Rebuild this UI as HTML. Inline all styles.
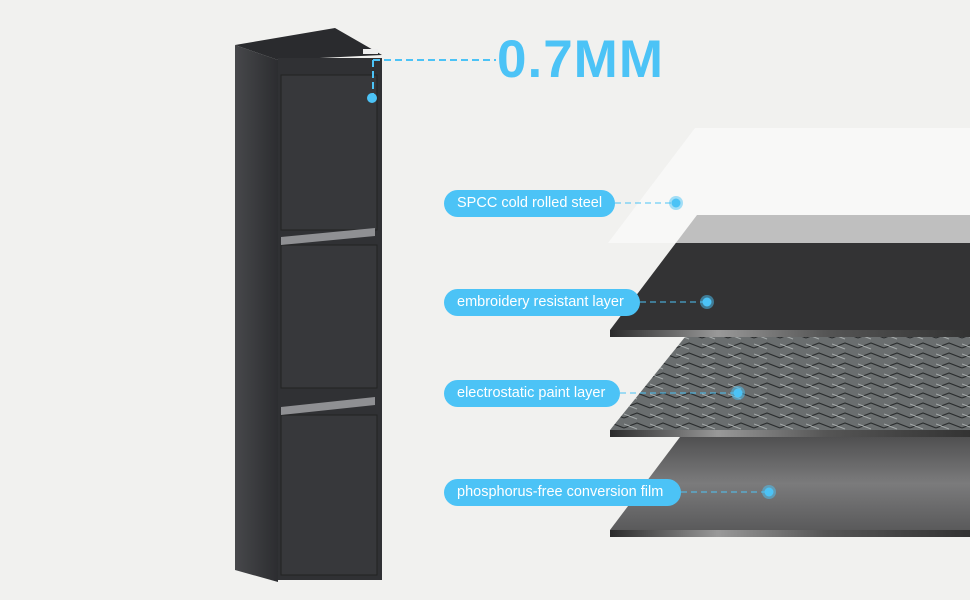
<!DOCTYPE html>
<html><head><meta charset="utf-8"><style>
body{margin:0;width:970px;height:600px;overflow:hidden;background:#f1f1ef;font-family:"Liberation Sans",sans-serif;position:relative}
.pill{position:absolute;left:444px;height:27px;line-height:27px;border-radius:14px;background:#4cc3f6;color:#fff;font-size:14.5px;padding:0 13px;box-sizing:border-box;white-space:nowrap}
</style></head><body>
<svg width="970" height="600" style="position:absolute;left:0;top:0">
<defs>
<linearGradient id="side" x1="0" x2="1"><stop offset="0" stop-color="#47484b"/><stop offset="1" stop-color="#2c2d30"/></linearGradient>
<linearGradient id="edge" x1="0" x2="1"><stop offset="0" stop-color="#2a2a2a"/><stop offset=".3" stop-color="#999"/><stop offset=".6" stop-color="#555"/><stop offset="1" stop-color="#333"/></linearGradient>
<linearGradient id="l4" x1="0" y1="0" x2="0" y2="1"><stop offset="0" stop-color="#505051"/><stop offset=".5" stop-color="#7b7b7c"/><stop offset="1" stop-color="#5a5a5b"/></linearGradient>
<pattern id="weave" width="26" height="10" patternUnits="userSpaceOnUse"><rect width="26" height="10" fill="#6a6e6f"/><path d="M0 8 L13 3 L26 8" stroke="#2a2d2e" stroke-width="1.2" fill="none"/><path d="M0 4 L13 9" stroke="#a5aaaa" stroke-width="1" fill="none"/></pattern>
</defs>
<!-- layers -->
<polygon points="697,215 970,215 970,330 610,330" fill="#333334"/>
<rect x="610" y="330" width="360" height="7" fill="url(#edge)"/>
<polygon points="695,128 970,128 970,243 608,243" fill="#fbfbfb" opacity=".7"/>
<polygon points="685,337 970,337 970,430 610,430" fill="url(#weave)"/>
<rect x="610" y="430" width="360" height="7" fill="url(#edge)"/>
<polygon points="680,437 970,437 970,530 610,530" fill="url(#l4)"/>
<rect x="610" y="530" width="360" height="7" fill="url(#edge)"/>
<!-- cabinet -->
<polygon points="235,45 335,28 382,55 278,60" fill="#2a2b2e"/>
<polygon points="235,45 278,60 278,582 235,570" fill="url(#side)"/>
<rect x="278" y="58" width="104" height="522" fill="#303134"/>
<rect x="281" y="75" width="96" height="155" fill="#37383b" stroke="#222" stroke-width="1"/>
<rect x="281" y="245" width="96" height="143" fill="#37383b" stroke="#222"/>
<rect x="281" y="415" width="96" height="160" fill="#37383b" stroke="#222"/>
<polygon points="281,237 375,228 375,236 281,245" fill="#8f9093"/>
<polygon points="281,407 375,397 375,405 281,415" fill="#8f9093"/>
<rect x="363" y="49" width="15" height="5" fill="#eee"/>
<!-- connectors -->
<g stroke="#4cc3f6" stroke-width="2" stroke-dasharray="7,4" fill="none">
<path d="M373 60 H496 M373 60 V96"/>
</g>
<g stroke="#4cc3f6" stroke-width="1" stroke-dasharray="6,4" fill="none">
<path d="M615 203 H672 M640 302 H703 M620 393 H734 M681 492 H765"/>
</g>
<g fill="#4cc3f6"><circle cx="372" cy="98" r="5"/>
<circle cx="676" cy="203" r="7" opacity=".5"/><circle cx="676" cy="203" r="4.5"/>
<circle cx="707" cy="302" r="7" opacity=".5"/><circle cx="707" cy="302" r="4.5"/>
<circle cx="738" cy="393" r="7" opacity=".5"/><circle cx="738" cy="393" r="4.5"/>
<circle cx="769" cy="492" r="7" opacity=".5"/><circle cx="769" cy="492" r="4.5"/></g>
</svg>
<div style="position:absolute;left:497px;top:29px;font-size:53px;font-weight:bold;color:#4cc3f6;letter-spacing:1px">0.7MM</div>
<div class="pill" style="top:190px;width:171px">SPCC cold rolled steel</div>
<div class="pill" style="top:289px;width:196px">embroidery resistant layer</div>
<div class="pill" style="top:380px;width:176px">electrostatic paint layer</div>
<div class="pill" style="top:479px;width:237px">phosphorus-free conversion film</div>
</body></html>
